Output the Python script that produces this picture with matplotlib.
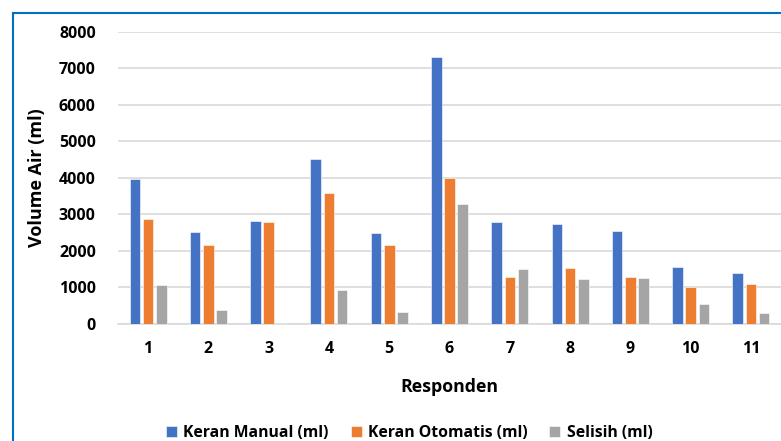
import numpy as np
import matplotlib.pyplot as plt
from matplotlib.lines import Line2D

plt.rcParams['font.family'] = ['Open Sans', 'DejaVu Sans']

# Data
responden = ['1', '2', '3', '4', '5', '6', '7', '8', '9', '10', '11']
keran_manual = [3960, 2520, 2810, 4520, 2490, 7300, 2800, 2750, 2550, 1550, 1400]
keran_otomatis = [2880, 2150, 2800, 3590, 2150, 4000, 1290, 1520, 1300, 1000, 1100]
selisih = [1070, 370, 40, 930, 330, 3290, 1500, 1240, 1260, 550, 300]
series_names = ['Keran Manual (ml)', 'Keran Otomatis (ml)', 'Selisih (ml)']

colors = ['#4472C4', '#ED7D31', '#A5A5A5']

fig = plt.figure(figsize=(7.81, 4.41), dpi=100)
ax = fig.add_axes([0.1511, 0.2653, 0.8489, 0.6628])

x = np.arange(len(responden))
width = 0.175
step = 0.22
for i, (vals, name) in enumerate(zip([keran_manual, keran_otomatis, selisih], series_names)):
    ax.bar(x + (i - 1) * step, vals, width, color=colors[i], label=name,
           edgecolor='white', linewidth=0.4, zorder=3)

ax.set_xlim(-0.5, len(responden) - 0.5)
ax.set_ylim(0, 8000)
ax.set_yticks(range(0, 8001, 1000))
ax.set_xticks(x)
ax.set_xticklabels(responden)
ax.grid(axis='y', color='#D9D9D9', linewidth=1.2, zorder=0)
for s in ['top', 'right', 'left']:
    ax.spines[s].set_visible(False)
ax.spines['bottom'].set_color('#D9D9D9')
ax.spines['bottom'].set_linewidth(1.2)
ax.tick_params(axis='both', length=0, labelsize=11.5, colors='black')
ax.tick_params(axis='x', pad=12)
ax.tick_params(axis='y', pad=16)
for lab in ax.get_xticklabels() + ax.get_yticklabels():
    lab.set_fontweight('bold')

ax.set_ylabel('Volume Air (ml)', fontsize=13, fontweight='bold', labelpad=9)
ax.set_xlabel('Responden', fontsize=12.8, fontweight='bold', labelpad=15)

fig.legend(loc='center', bbox_to_anchor=(0.524, 0.018), ncol=3, frameon=False,
           prop={'weight': 'bold', 'size': 11.3}, handlelength=0.7, handleheight=0.7,
           columnspacing=1.4, handletextpad=0.4)

# blue frame around the chart (cut at right and bottom)
fig.add_artist(Line2D([13 / 781, 1.0], [1 - 13 / 441, 1 - 13 / 441],
                      transform=fig.transFigure, color='#0070C0', linewidth=1.5))
fig.add_artist(Line2D([13 / 781, 13 / 781], [0.0, 1 - 13 / 441],
                      transform=fig.transFigure, color='#0070C0', linewidth=1.5))

fig.savefig('out.png', dpi=100)
